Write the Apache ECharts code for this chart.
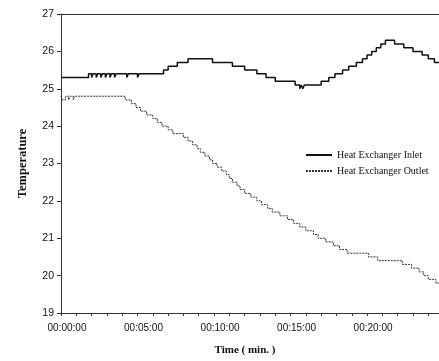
<!DOCTYPE html>
<html>
<head>
<meta charset="utf-8">
<script src="https://cdn.jsdelivr.net/npm/echarts@6/dist/echarts.min.js"></script>
<style>
  html, body { margin: 0; padding: 0; background: #fff; }
  #chart { width: 439px; height: 361px; }
</style>
</head>
<body>
<div id="chart"></div>
<script>
// Sampled temperatures: [time in minutes, °C]; each value holds until the next sample.
const inletSeries = [
  [0.0, 25.3], [1.8, 25.4], [2.0, 25.3], [2.1, 25.4], [2.3, 25.3], [2.4, 25.4],
  [2.6, 25.3], [2.7, 25.4], [2.9, 25.3], [3.0, 25.4], [3.2, 25.3], [3.3, 25.4],
  [3.5, 25.3], [3.6, 25.4], [4.3, 25.3], [4.4, 25.4], [5.0, 25.3], [5.1, 25.4],
  [6.7, 25.5], [7.0, 25.6], [7.6, 25.7], [8.3, 25.8],
  [9.9, 25.7], [11.2, 25.6], [12.0, 25.5], [12.8, 25.4], [13.4, 25.3], [14.0, 25.2],
  [15.3, 25.1], [15.6, 25.0], [15.7, 25.1], [15.8, 25.0], [15.9, 25.1],
  [17.0, 25.2], [17.5, 25.3], [17.9, 25.4], [18.4, 25.5], [18.8, 25.6], [19.3, 25.7],
  [19.7, 25.8], [20.0, 25.9], [20.3, 26.0], [20.6, 26.1], [20.9, 26.2], [21.2, 26.3],
  [21.8, 26.2], [22.4, 26.1], [23.0, 26.0], [23.6, 25.9], [24.0, 25.8], [24.4, 25.7],
  [24.7, 25.7]
];

const outletSeries = [
  [0.0, 24.8], [0.1, 24.7], [0.3, 24.8], [0.5, 24.7], [0.6, 24.8], [0.8, 24.7],
  [0.9, 24.8], [4.2, 24.7], [4.6, 24.6], [4.9, 24.5], [5.2, 24.4], [5.6, 24.3],
  [6.0, 24.2], [6.3, 24.1], [6.6, 24.0], [7.0, 23.9], [7.3, 23.8], [8.0, 23.7],
  [8.3, 23.6], [8.6, 23.5], [8.9, 23.4], [9.1, 23.3], [9.4, 23.2], [9.7, 23.1],
  [9.9, 23.0], [10.2, 22.9], [10.5, 22.8], [10.8, 22.7], [11.0, 22.6], [11.2, 22.5],
  [11.5, 22.4], [11.7, 22.3], [12.0, 22.2], [12.4, 22.1], [12.8, 22.0], [13.1, 21.9],
  [13.5, 21.8], [13.8, 21.7], [14.3, 21.6], [14.8, 21.5], [15.2, 21.4], [15.6, 21.3],
  [16.0, 21.2], [16.5, 21.1], [16.8, 21.0], [17.3, 20.9], [17.8, 20.8], [18.2, 20.7],
  [18.7, 20.6], [20.1, 20.5], [20.7, 20.4], [22.3, 20.3], [22.9, 20.2], [23.4, 20.1],
  [23.7, 20.0], [24.0, 19.9], [24.5, 19.8], [24.7, 19.8]
];

const seriesNames = ['Heat Exchanger Inlet', 'Heat Exchanger Outlet'];
const yTicks = { min: 19, max: 27, step: 1 };
const xTicks = { min: 0, max: 24.7, step: 5 };

function clock(mins) {
  const m = Math.round(mins);
  return '00:' + String(m).padStart(2, '0') + ':00';
}

const chart = echarts.init(document.getElementById('chart'), null, { renderer: 'canvas' });

const axisColor = '#333';
const serif = '"Liberation Serif", "DejaVu Serif", serif';
const sans = '"Liberation Sans", Arial, sans-serif';

chart.setOption({
  animation: false,
  backgroundColor: '#fff',
  grid: { left: 61, top: 14, right: 0, bottom: 48 },
  legend: {
    orient: 'vertical',
    left: 300,
    top: 145,
    itemWidth: 26,
    itemHeight: 8,
    itemGap: 6,
    itemStyle: { opacity: 0 },
    textStyle: { fontFamily: serif, fontSize: 10, color: '#111' },
    data: seriesNames
  },
  xAxis: [
    {
      type: 'value',
      min: xTicks.min,
      max: xTicks.max,
      interval: xTicks.step,
      name: 'Time ( min. )',
      nameLocation: 'middle',
      nameGap: 32,
      nameTextStyle: { fontFamily: serif, fontSize: 11, fontWeight: 'bold', color: '#111', padding: [0, 10, 0, 0] },
      axisLine: { onZero: false, lineStyle: { color: axisColor, width: 1 } },
      axisTick: { show: true, length: 3, lineStyle: { color: axisColor } },
      minorTick: { show: true, splitNumber: 5, length: 3, lineStyle: { color: axisColor } },
      splitLine: { show: false },
      axisLabel: {
        formatter: clock,
        fontFamily: sans,
        fontSize: 10,
        color: '#111',
        margin: 10,
        padding: [0, 0, 0, 12],
        showMaxLabel: false
      }
    },
    {
      type: 'value',
      position: 'top',
      min: xTicks.min,
      max: xTicks.max,
      axisLine: { show: true, lineStyle: { color: axisColor, width: 1 } },
      axisTick: { show: false },
      axisLabel: { show: false },
      splitLine: { show: false }
    }
  ],
  yAxis: {
    type: 'value',
    min: yTicks.min,
    max: yTicks.max,
    interval: yTicks.step,
    name: 'Temperature',
    nameLocation: 'middle',
    nameGap: 32,
    nameTextStyle: { fontFamily: serif, fontSize: 12.5, fontWeight: 'bold', color: '#111' },
    axisLine: { show: true, lineStyle: { color: axisColor, width: 1 } },
    axisTick: { show: true, length: 4, lineStyle: { color: axisColor } },
    splitLine: { show: false },
    axisLabel: { fontFamily: sans, fontSize: 10.5, color: '#111', margin: 7 }
  },
  series: [
    {
      name: seriesNames[0],
      type: 'line',
      step: 'end',
      symbol: 'none',
      data: inletSeries,
      lineStyle: { color: '#111', width: 1.5 },
      itemStyle: { color: '#111' }
    },
    {
      name: seriesNames[1],
      type: 'line',
      step: 'end',
      symbol: 'none',
      data: outletSeries,
      lineStyle: { color: '#333', width: 1, type: [2, 1] },
      itemStyle: { color: '#333' }
    }
  ]
});
</script>
</body>
</html>
